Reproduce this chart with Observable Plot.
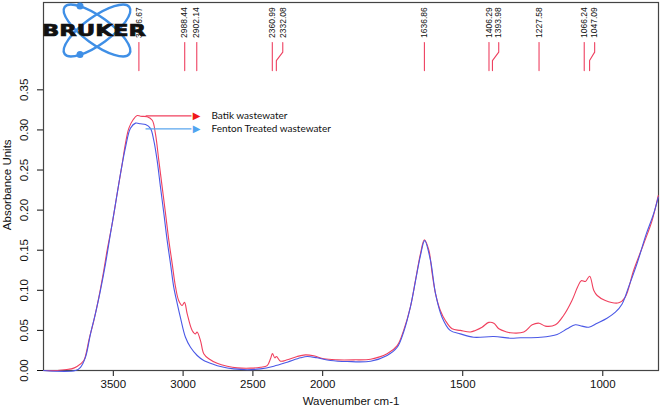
<!DOCTYPE html>
<html>
<head>
<meta charset="utf-8">
<script src="https://cdn.jsdelivr.net/npm/d3@7"></script>
<script src="https://cdn.jsdelivr.net/npm/@observablehq/plot@0.6"></script>
<style>
  html, body { margin: 0; padding: 0; background: #fff; }
</style>
</head>
<body>
<div id="chart"></div>
<script>
// ---- data ----
const batikWn = [4000,3900,3850,3800,3760,3711,3690,3676,3640,3604,3568,3544,3508,3472,3436,3413,3389,3357,3329,3305,3257,3221,3198,3174,3150,3126,3102,3078,3054,3031,3007,2990,2971,2935,2911,2900,2875,2852,2816,2756,2684,2613,2517,2446,2398,2374,2360,2343,2331,2302,2254,2183,2123,2064,1996,1948,1889,1829,1770,1734,1711,1687,1669,1651,1637,1621,1609,1597,1580,1562,1538,1509,1473,1455,1431,1407,1389,1371,1342,1330,1282,1252,1227,1205,1169,1140,1110,1090,1077,1062,1047,1032,1020,991,943,920,890,854,824,802];
const batikAbs = [0,0,0.001,0.002,0.005,0.0125,0.025,0.037,0.062,0.091,0.125,0.150,0.183,0.221,0.258,0.283,0.302,0.313,0.318,0.317,0.3165,0.312,0.295,0.262,0.229,0.196,0.162,0.133,0.104,0.087,0.081,0.085,0.071,0.050,0.0457,0.048,0.037,0.021,0.0146,0.009,0.0054,0.0033,0.0029,0.004,0.006,0.0146,0.021,0.0158,0.0175,0.0116,0.0133,0.0175,0.0195,0.0183,0.0146,0.0133,0.0133,0.0141,0.0208,0.031,0.050,0.079,0.112,0.1455,0.163,0.150,0.1205,0.0956,0.0748,0.0623,0.052,0.050,0.048,0.050,0.054,0.060,0.059,0.052,0.048,0.047,0.048,0.057,0.059,0.0553,0.057,0.0686,0.0873,0.104,0.112,0.111,0.1176,0.0998,0.0935,0.0873,0.0844,0.0914,0.1247,0.158,0.187,0.218];

const fentonWn = [4000,3771,3735,3699,3663,3628,3592,3556,3520,3484,3448,3413,3377,3341,3305,3269,3234,3210,3186,3162,3138,3114,3090,3067,3042,3019,2983,2947,2899,2852,2780,2732,2637,2541,2446,2350,2254,2159,2111,2040,1972,1913,1829,1770,1734,1711,1687,1651,1636,1615,1597,1574,1545,1509,1461,1389,1330,1294,1223,1163,1127,1098,1074,1050,1020,985,955,931,908,878,845,819,802];
const fentonAbs = [0,0,0.004,0.0166,0.046,0.071,0.10,0.133,0.171,0.208,0.246,0.278,0.302,0.3085,0.3076,0.3067,0.302,0.287,0.262,0.2286,0.196,0.162,0.133,0.104,0.0835,0.066,0.0415,0.029,0.0187,0.0125,0.0075,0.005,0.002,0.001,0.002,0.0054,0.0104,0.0158,0.0175,0.0158,0.0125,0.0112,0.0116,0.0187,0.029,0.048,0.079,0.1434,0.162,0.137,0.0956,0.0665,0.050,0.0457,0.0415,0.0424,0.0403,0.0408,0.0415,0.045,0.052,0.057,0.0553,0.054,0.059,0.0652,0.0727,0.083,0.104,0.133,0.170,0.195,0.216];

const peakLabels   = ["3316.67","2988.44","2902.14","2360.99","2332.08","1636.86","1406.29","1393.98","1227.58","1066.24","1047.09"];
const peakWn       = [3316.67,2988.44,2902.14,2360.99,2332.08,1636.86,1406.29,1393.98,1227.58,1066.24,1047.09];
const peakLabelWn  = [3316.67,2988.44,2902.14,2360.99,2286,1636.86,1406.29,1371.5,1227.58,1066.24,1029];

const xTicks = [3500,3000,2500,2000,1500,1000];
const yTicks = [0,0.05,0.10,0.15,0.20,0.25,0.30,0.35];

const legendLabels = ["Batik wastewater","Fenton Treated wastewater"];
const legendColors = ["#f0405e","#5aa6ee"];
const legendHeads  = ["#f01818","#50a4f0"];
const legendAbs    = [0.3176,0.3014];

// ---- build tables ----
const batik  = batikWn.map((w,i)=>({wn:w, a:batikAbs[i]}));
const fenton = fentonWn.map((w,i)=>({wn:w, a:fentonAbs[i]}));
const peaks  = peakLabels.map((t,i)=>({label:t, wn:peakWn[i], lw:peakLabelWn[i]}));
// annotation levels (in absorbance units, above the spectra)
const yLabel = 0.4146, yTop = 0.409, yJog1 = 0.397, yJog2 = 0.3865, yBot = 0.374;
const peakPath = peaks.flatMap(p => [
  {k:p.label, wn:p.lw, a:yTop},
  {k:p.label, wn:p.lw, a:yJog1},
  {k:p.label, wn:p.wn, a:yJog2},
  {k:p.label, wn:p.wn, a:yBot}
]);
const legend = legendLabels.map((t,i)=>({t, c:legendColors[i], h:legendHeads[i], a:legendAbs[i]}));

const chart = Plot.plot({
  width: 661,
  height: 412,
  marginLeft: 43,
  marginRight: 3,
  marginTop: 2,
  marginBottom: 42,
  style: {fontFamily: "Liberation Sans, Arial, sans-serif", fontSize: "11.5px", background: "#fff", color: "#111"},
  x: {type: "linear", domain: [4000, 2000, 800], range: [43, 322.2, 658.3], ticks: xTicks, tickFormat: d => String(d), tickSize: 6, tickPadding: 3, label: null},
  y: {domain: [0, 0.4589], ticks: yTicks, tickSize: 6, tickFormat: () => "", label: null},
  marks: [
    Plot.frame({stroke: "#444", strokeWidth: 1.2}),
    // y tick labels (rotated)
    Plot.text(yTicks, {y: d => d, text: d => d.toFixed(2), frameAnchor: "left", dx: -19, rotate: -90, textAnchor: "middle", fontSize: 11.5, fill: "#111"}),
    Plot.text(["Absorbance Units"], {y: 0.175, frameAnchor: "left", dx: -36, rotate: -90, fontSize: 11.5, fill: "#111"}),
    Plot.text(["Wavenumber cm-1"], {frameAnchor: "bottom", dy: 34, fontSize: 11.5, fill: "#111"}),
    // spectra
    Plot.line(batik, {x: "wn", y: "a", stroke: "#f0405e", strokeWidth: 1.1, curve: "catmull-rom"}),
    Plot.line(fenton, {x: "wn", y: "a", stroke: "#4a58e6", strokeWidth: 1.1, curve: "catmull-rom"}),
    // peak markers
    Plot.line(peakPath, {x: "wn", y: "a", z: "k", stroke: "#ee4060", strokeWidth: 1.1}),
    Plot.text(peaks, {x: "lw", y: yLabel, text: "label", rotate: -90, textAnchor: "start", fontSize: 8.5, fill: "#111"}),
    // legend arrows
    Plot.link(legend, {x1: 3269, x2: 2940, y1: "a", y2: "a", stroke: "c", strokeWidth: 1.3}),
    Plot.text(legend, {x: 2904, y: "a", text: () => "\u25B6", fill: "h", fontSize: 10, fontFamily: "DejaVu Sans"}),
    Plot.text(legend, {x: 2797, y: "a", text: "t", textAnchor: "start", fontSize: 10, fontFamily: "Lato", fill: "#111"})
  ]
});

// Bruker logo (decoration)
const svg = d3.select(chart);
const logo = svg.append("g");
logo.append("ellipse").attr("cx", 97).attr("cy", 30.5).attr("rx", 40).attr("ry", 13.5)
  .attr("transform", "rotate(36 97 30.5)").attr("fill", "none").attr("stroke", "#3f8fe6").attr("stroke-width", 2.4);
logo.append("ellipse").attr("cx", 97).attr("cy", 30.5).attr("rx", 40).attr("ry", 13.5)
  .attr("transform", "rotate(-36 97 30.5)").attr("fill", "none").attr("stroke", "#3f8fe6").attr("stroke-width", 2.4);
logo.append("circle").attr("cx", 80).attr("cy", 6).attr("r", 3.5).attr("fill", "#3f8fe6");
logo.append("circle").attr("cx", 80).attr("cy", 54.5).attr("r", 3.5).attr("fill", "#3f8fe6");
logo.append("text").attr("x", 42).attr("y", 36).text("BRUKER")
  .attr("text-anchor", "start")
  .attr("font-family", "DejaVu Sans").attr("font-weight", "bold").attr("font-size", 16.5)
  .attr("textLength", 104).attr("lengthAdjust", "spacingAndGlyphs")
  .attr("fill", "#111").attr("stroke", "#111").attr("stroke-width", 0.7);

document.getElementById("chart").appendChild(chart);
</script>
</body>
</html>
